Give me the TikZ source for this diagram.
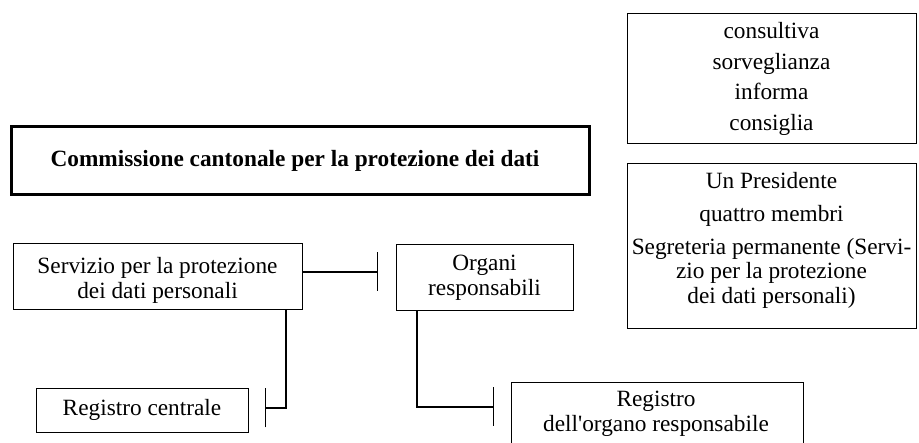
\documentclass[tikz,border=0pt]{standalone}
\usepackage{fontspec}
\setmainfont{Liberation Serif}[Ligatures=TeXOff]
\usetikzlibrary{arrows.meta}
\newcommand{\fs}{\fontsize{23.3}{25}\selectfont}
\begin{document}
\begin{tikzpicture}[x=1pt,y=-1pt,
  box/.style={draw, line width=1.4pt, inner sep=0pt, anchor=north west},
  txt/.style={inner sep=0pt, align=center, font=\fs},
  conn/.style={line width=1.4pt, -{Bar[width=39pt]}}]
\path[use as bounding box, clip] (0,0) rectangle (919,443);
% boxes
\node[box, line width=3pt, minimum width=578pt, minimum height=68pt] (comm) at (10,125) {};
\node[box, minimum width=289pt, minimum height=130pt] (c1) at (627,13) {};
\node[box, minimum width=289pt, minimum height=165pt] (c2) at (627,163) {};
\node[box, minimum width=289pt, minimum height=66pt] (serv) at (13,243) {};
\node[box, minimum width=177pt, minimum height=66pt] (org) at (396,244) {};
\node[box, minimum width=212pt, minimum height=44pt] (regc) at (36,388) {};
\node[box, minimum width=292pt, minimum height=80pt] (rego) at (511,382) {};
% texts
\node[txt, font=\fs\bfseries] (commt) at (295,161) {Commissione cantonale per la protezione dei dati};
\node[txt, font=\fontsize{23.3}{30.5}\selectfont] (c1t) at (771.5,79) {consultiva\\sorveglianza\\informa\\consiglia};
\node[txt, font=\fontsize{23.3}{24.5}\selectfont] (c2t) at (771.5,240) {Un Presidente\\[9pt]quattro membri\\[8pt]Segreteria permanente (Servi-\\zio per la protezione\\dei dati personali)};
\node[txt] (servt) at (157.5,280) {Servizio per la protezione\\dei dati personali};
\node[txt] (orgt) at (484.5,278) {Organi\\responsabili};
\node[txt] (regct) at (142,409.5) {Registro centrale};
\node[txt] (regot) at (656,413.5) {Registro\\dell'organo responsabile};
% connectors
\coordinate (e1) at (378,272);
\draw[conn] (serv.east |- e1) -- (e1);
\coordinate (k1) at (286,408);
\coordinate (e2) at (265,408);
\draw[conn] (serv.south -| k1) -- (k1) -- (e2);
\coordinate (k2) at (417,407);
\coordinate (e3) at (494,407);
\draw[conn] (org.south -| k2) -- (k2) -- (e3);
\end{tikzpicture}
\end{document}
